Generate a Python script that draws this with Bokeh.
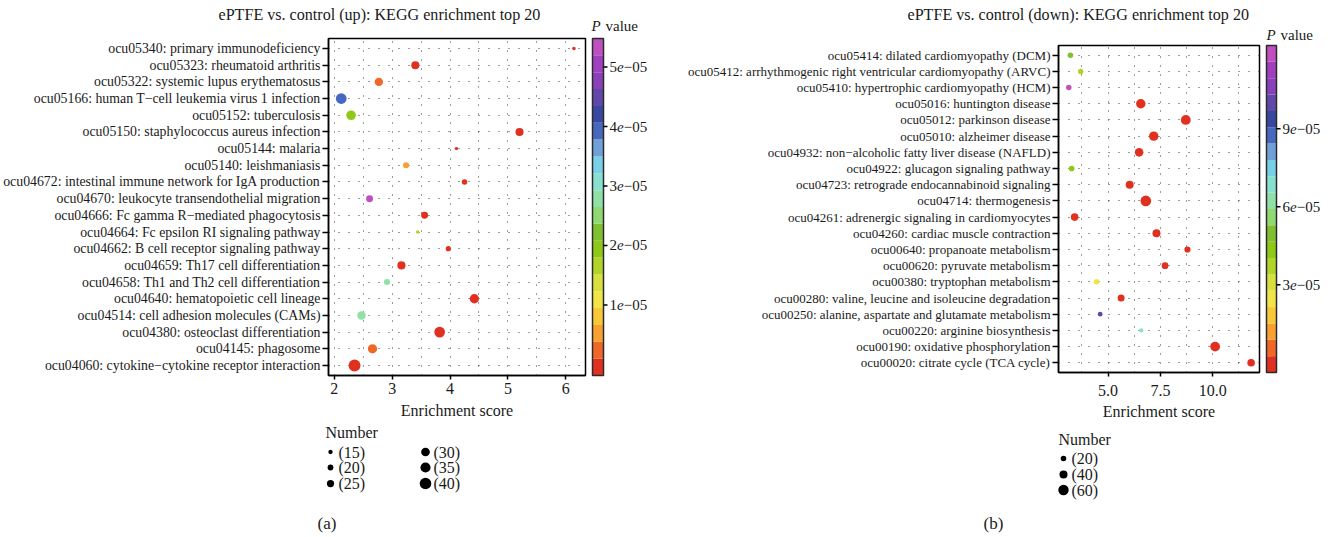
from bokeh.plotting import figure
from bokeh.models import (FactorRange, Range1d, FixedTicker, ColumnDataSource, LinearColorMapper,
                          NumeralTickFormatter)
from bokeh.layouts import row, column
from bokeh.embed import file_html
from bokeh.resources import INLINE
from bokeh.core.properties import value

FONT = "Liberation Serif"
TXT = "#1a1a1a"

# ---------------- data ----------------
up_title = "ePTFE vs. control (up): KEGG enrichment top 20"
up_terms = [
    "ocu05340: primary immunodeficiency",
    "ocu05323: rheumatoid arthritis",
    "ocu05322: systemic lupus erythematosus",
    "ocu05166: human T\u2212cell leukemia virus 1 infection",
    "ocu05152: tuberculosis",
    "ocu05150: staphylococcus aureus infection",
    "ocu05144: malaria",
    "ocu05140: leishmaniasis",
    "ocu04672: intestinal immune network for IgA production",
    "ocu04670: leukocyte transendothelial migration",
    "ocu04666: Fc gamma R\u2212mediated phagocytosis",
    "ocu04664: Fc epsilon RI signaling pathway",
    "ocu04662: B cell receptor signaling pathway",
    "ocu04659: Th17 cell differentiation",
    "ocu04658: Th1 and Th2 cell differentiation",
    "ocu04640: hematopoietic cell lineage",
    "ocu04514: cell adhesion molecules (CAMs)",
    "ocu04380: osteoclast differentiation",
    "ocu04145: phagosome",
    "ocu04060: cytokine\u2212cytokine receptor interaction",
]
up_score = [6.14, 3.40, 2.77, 2.12, 2.29, 5.20, 4.11, 3.24, 4.25, 2.61,
            3.56, 3.44, 3.97, 3.16, 2.91, 4.42, 2.47, 3.82, 2.66, 2.35]
up_number = [12, 28, 29, 37, 33, 28, 12, 21, 19, 24,
             24, 12, 18, 28, 21, 32, 29, 37, 32, 41]
up_pvalue = [2e-08, 4e-08, 2.5e-06, 3.95e-05, 1.85e-05, 3e-08, 6e-07, 5.0e-06, 1e-07, 5.34e-05,
             5e-08, 1.6e-05, 2e-07, 2e-08, 2.8e-05, 1e-08, 2.75e-05, 5e-09, 2.5e-06, 1e-09]
up_xticks = [2, 3, 4, 5, 6]
up_xminor = [2.5, 3.5, 4.5, 5.5]
up_cbar_ticks = [1e-05, 2e-05, 3e-05, 4e-05, 5e-05]
up_cbar_labels = ["1e\u221205", "2e\u221205", "3e\u221205", "4e\u221205", "5e\u221205"]
up_cbar_limits = (-0.186e-05, 5.48e-05)
up_size_breaks = [15, 20, 25, 30, 35, 40]

down_title = "ePTFE vs. control (down): KEGG enrichment top 20"
down_terms = [
    "ocu05414: dilated cardiomyopathy (DCM)",
    "ocu05412: arrhythmogenic right ventricular cardiomyopathy (ARVC)",
    "ocu05410: hypertrophic cardiomyopathy (HCM)",
    "ocu05016: huntington disease",
    "ocu05012: parkinson disease",
    "ocu05010: alzheimer disease",
    "ocu04932: non\u2212alcoholic fatty liver disease (NAFLD)",
    "ocu04922: glucagon signaling pathway",
    "ocu04723: retrograde endocannabinoid signaling",
    "ocu04714: thermogenesis",
    "ocu04261: adrenergic signaling in cardiomyocytes",
    "ocu04260: cardiac muscle contraction",
    "ocu00640: propanoate metabolism",
    "ocu00620: pyruvate metabolism",
    "ocu00380: tryptophan metabolism",
    "ocu00280: valine, leucine and isoleucine degradation",
    "ocu00250: alanine, aspartate and glutamate metabolism",
    "ocu00220: arginine biosynthesis",
    "ocu00190: oxidative phosphorylation",
    "ocu00020: citrate cycle (TCA cycle)",
]
down_score = [3.20, 3.69, 3.12, 6.56, 8.71, 7.18, 6.48, 3.26, 6.03, 6.80,
              3.40, 7.31, 8.79, 7.72, 4.45, 5.62, 4.62, 6.58, 10.11, 11.83]
down_number = [20, 19, 19, 52, 55, 52, 45, 20, 40, 62,
               37, 40, 25, 30, 20, 32, 13, 8, 55, 37]
down_pvalue = [5.0e-05, 3.45e-05, 1.19e-04, 1e-10, 1e-12, 1e-11, 1e-09, 4.3e-05, 1e-08, 1e-12,
               2e-07, 1e-08, 1e-06, 5e-07, 2.45e-05, 1e-07, 1.0e-04, 6.9e-05, 1e-13, 1e-09]
down_xticks = [5.0, 7.5, 10.0]
down_xminor = [3.75, 6.25, 8.75, 11.25]
down_cbar_ticks = [3e-05, 6e-05, 9e-05]
down_cbar_labels = ["3e\u221205", "6e\u221205", "9e\u221205"]
down_cbar_limits = (-0.373e-05, 12.2e-05)
down_size_breaks = [20, 40, 60]

# colour steps of the P value scale (low -> high)
palette = ["#E03020", "#F06828", "#F8A030", "#F8C838", "#F0E448", "#D8E040", "#B0D428",
           "#90C818", "#80C030", "#90D870", "#90E0A8", "#88E0D0", "#78D0E8", "#70A0D8",
           "#4868C0", "#3848A0", "#6048A8", "#8A40B8", "#A040C0", "#C050C0"]

PAGE_H = 537
STRIP_H = 30


def blank(W, H):
    f = figure(width=W, height=H, output_backend="svg", toolbar_location=None,
               x_range=Range1d(0, W), y_range=Range1d(H, 0),
               x_axis_location=None, y_axis_location=None, min_border=0,
               background_fill_color="white", border_fill_color="white")
    f.outline_line_color = None
    f.grid.visible = False
    return f


def title_strip(W, text, x, baseline):
    s = blank(W, STRIP_H)
    s.text(x=[x], y=[baseline], text=[text], text_font=value(FONT), text_font_size="16.1px",
           text_baseline="alphabetic", text_align="left", text_color=TXT)
    return s


def main_fig(terms, score, number, pval, mapper, size_fn, xr, xticks, xminor, fmt,
             W, H, bl, br, bt, bb, ylab_size, xlab_standoff, xtick_standoff):
    p = figure(width=W, height=H, output_backend="svg", toolbar_location=None,
               x_range=Range1d(*xr),
               y_range=FactorRange(factors=terms[::-1], range_padding=0.1,
                                   range_padding_units="absolute"),
               min_border_left=bl, min_border_right=br, min_border_top=bt, min_border_bottom=bb,
               background_fill_color="white", border_fill_color="white")
    src = ColumnDataSource(dict(term=terms, score=score, number=number, p=pval,
                                size=[size_fn(n) for n in number]))
    p.scatter("score", "term", size="size", source=src,
              fill_color={"field": "p", "transform": mapper}, line_color=None)

    p.xaxis.ticker = FixedTicker(ticks=xticks, minor_ticks=xminor)
    if fmt:
        p.xaxis.formatter = NumeralTickFormatter(format=fmt)
    for attr in ("grid_line", "minor_grid_line"):
        setattr(p.xgrid, attr + "_color", "#3a3a3a")
        setattr(p.xgrid, attr + "_dash", "1 8")
    p.ygrid.grid_line_color = "#3a3a3a"
    p.ygrid.grid_line_dash = "1 9"

    for ax in (p.xaxis[0], p.yaxis[0]):
        ax.axis_line_color = "black"
        ax.axis_line_width = 1.5
        ax.major_tick_line_color = "black"
        ax.major_tick_line_width = 1.5
        ax.major_tick_in = 0
        ax.minor_tick_line_color = None
        ax.major_label_text_font = FONT
        ax.major_label_text_color = TXT
    p.yaxis.major_tick_out = 6
    p.yaxis.major_label_standoff = 2
    p.yaxis.major_label_text_font_size = ylab_size
    p.xaxis.major_tick_out = 4
    p.xaxis.major_label_standoff = xtick_standoff
    p.xaxis.major_label_text_font_size = "16px"
    p.xaxis.axis_label = "Enrichment score"
    p.xaxis.axis_label_text_font = FONT
    p.xaxis.axis_label_text_font_style = "normal"
    p.xaxis.axis_label_text_font_size = "16px"
    p.xaxis.axis_label_text_color = TXT
    p.xaxis.axis_label_standoff = xlab_standoff
    p.outline_line_color = "black"
    p.outline_line_width = 1.5
    p.outline_line_alpha = 1
    return p


def cbar_fig(limits, ticks, labels, W, bx, bw, top_px, bot_px, title_base, p_x, v_x):
    """Full-height colour bar column; bar spans page rows top_px..bot_px."""
    H = PAGE_H
    low, high = limits
    ppu = (bot_px - top_px) / (high - low)
    c = figure(width=W, height=H, output_backend="svg", toolbar_location=None,
               x_range=Range1d(0, W),
               y_range=Range1d(low - (H - bot_px) / ppu, high + top_px / ppu),
               x_axis_location=None, y_axis_location=None, min_border=0,
               background_fill_color="white", border_fill_color="white")
    c.outline_line_color = None
    c.grid.visible = False
    n = len(palette)
    step = (high - low) / n
    c.quad(left=bx, right=bx + bw, bottom=[low + i * step for i in range(n)],
           top=[low + (i + 1) * step for i in range(n)], fill_color=palette, line_color=None)
    c.quad(left=[bx], right=[bx + bw], bottom=[low], top=[high], fill_color=None,
           line_color="#2a2a2a", line_width=1.5)
    c.segment(x0=bx + bw, x1=bx + bw + 4, y0=ticks, y1=ticks, line_color="black", line_width=1.5)
    mant = [s.split("e")[0] for s in labels]
    expo = [s.split("e")[1] for s in labels]
    lx = bx + bw + 6
    common = dict(text_font=value(FONT), text_font_size="15px", text_baseline="middle",
                  text_align="left", text_color=TXT)
    c.text(x=lx, y=ticks, text=mant, **common)
    c.text(x=lx, y=ticks, text=["e"] * len(ticks), x_offset=7.5, text_font_style="italic", **common)
    c.text(x=lx, y=ticks, text=expo, x_offset=14.2, **common)
    ty = high + (top_px - title_base) / ppu
    c.text(x=[p_x], y=[ty], text=["P"], text_font=value(FONT), text_font_size="15px",
           text_font_style="italic", text_baseline="alphabetic", text_align="left", text_color=TXT)
    c.text(x=[v_x], y=[ty], text=["value"], text_font=value(FONT), text_font_size="15px",
           text_baseline="alphabetic", text_align="left", text_color=TXT)
    return c


def legend_fig(W, H, breaks, size_fn, title_xy, cols, rows_y, lab_dx, tag, tag_xy):
    g = blank(W, H)
    g.text(x=[title_xy[0]], y=[title_xy[1]], text=["Number"], text_font=value(FONT),
           text_font_size="16px", text_baseline="middle", text_align="left", text_color=TXT)
    nrow = len(rows_y)
    xs, ys, sz, lx, labels = [], [], [], [], []
    for i, b in enumerate(breaks):
        cx = cols[i // nrow]
        xs.append(cx)
        ys.append(rows_y[i % nrow])
        sz.append(size_fn(b))
        lx.append(cx + lab_dx)
        labels.append("(%d)" % b)
    g.scatter(xs, ys, size=sz, fill_color="black", line_color=None)
    g.text(x=lx, y=ys, text=labels, text_font=value(FONT), text_font_size="16px",
           text_baseline="middle", text_align="left", text_color=TXT)
    g.text(x=[tag_xy[0]], y=[tag_xy[1]], text=[tag], text_font=value(FONT),
           text_font_size="17px", text_baseline="middle", text_align="left", text_color=TXT)
    return g


def up_size(n):
    return 0.29 * n


def down_size(n):
    return 3.2 + 0.12 * n


up_mapper = LinearColorMapper(palette=palette, low=up_cbar_limits[0], high=up_cbar_limits[1])
down_mapper = LinearColorMapper(palette=palette, low=down_cbar_limits[0], high=down_cbar_limits[1])

# ---- left panel (a): page x 0..660 ----
sA = title_strip(590, up_title, 218, 14)
pA = main_fig(up_terms, up_score, up_number, up_pvalue, up_mapper, up_size, (1.90, 6.34),
              up_xticks, up_xminor, None, 590, 395, 327, 5, 38 - STRIP_H, 50, "13.8px", 5, 3)
lA = legend_fig(590, 112, up_size_breaks, up_size, (325, 7), [330, 425], [26.5, 42, 58],
                8, "(a)", (317, 98))
cA = cbar_fig(up_cbar_limits, up_cbar_ticks, up_cbar_labels, 70, 2, 11, 38, 375, 25, 1, 15)

# ---- right panel (b): page x 660..1330 ----
sB = title_strip(602, down_title, 247, 14)
pB = main_fig(down_terms, down_score, down_number, down_pvalue, down_mapper, down_size, (2.63, 12.23),
              down_xticks, down_xminor, "0.0", 602, 395, 398, 3, 45 - STRIP_H, 53, "13px", 4, 8)
lB = legend_fig(602, 112, down_size_breaks, down_size, (398, 14), [403], [33, 49, 64.5],
                8, "(b)", (323, 98))
cB = cbar_fig(down_cbar_limits, down_cbar_ticks, down_cbar_labels, 68, 4, 10, 45, 372, 34, 4, 18)

left_block = row(column(row(sA), row(pA), row(lA)), cA)
right_block = row(column(row(sB), row(pB), row(lB)), cB)
layout = row(left_block, right_block)

open("out.html", "w").write(file_html(layout, INLINE))
